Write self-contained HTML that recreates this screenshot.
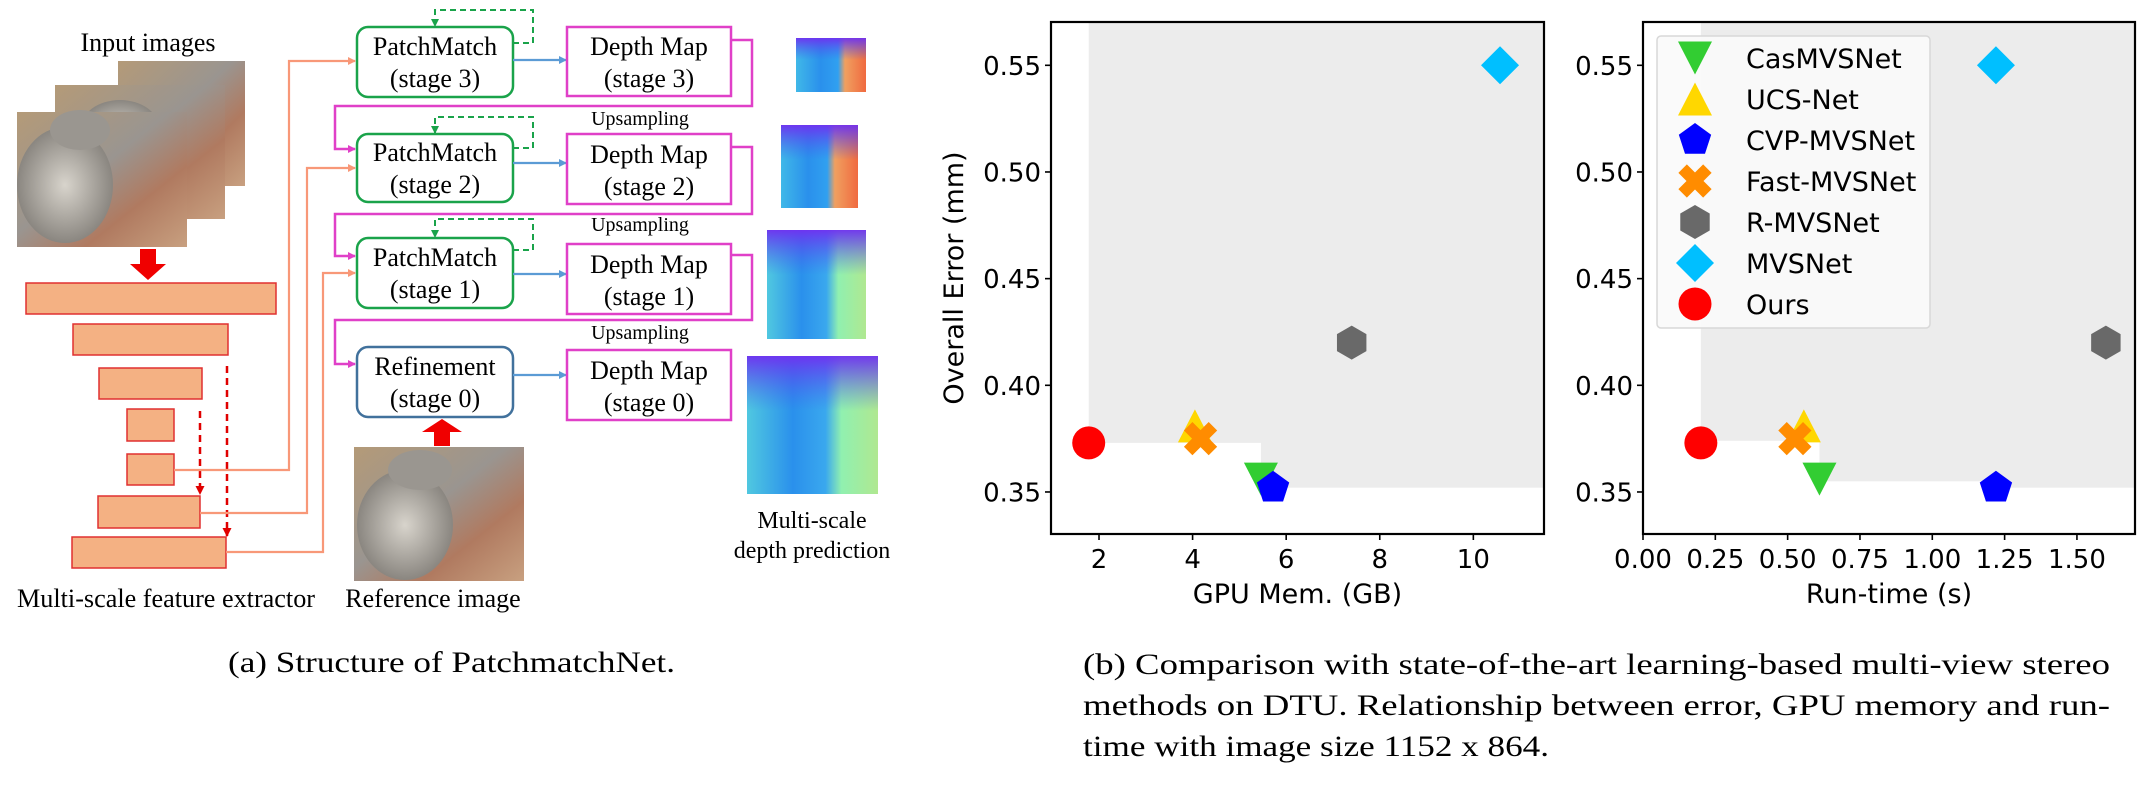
<!DOCTYPE html>
<html><head><meta charset="utf-8"><style>
html,body{margin:0;padding:0;background:#fff;}
svg{display:block;}
.serif{font-family:"Liberation Serif","Times New Roman",serif;fill:#000;}
.sans{font-family:"DejaVu Sans","Liberation Sans",sans-serif;fill:#000;}
</style></head><body>
<svg id="fig" width="2144" height="787" viewBox="0 0 2144 787" xmlns="http://www.w3.org/2000/svg">
<defs>
<marker id="ahO" markerWidth="8" markerHeight="8" refX="7" refY="4" orient="auto" markerUnits="userSpaceOnUse"><path d="M0,0 L8,4 L0,8 z" fill="#f89878"/></marker>
<marker id="ahB" markerWidth="8" markerHeight="8" refX="7" refY="4" orient="auto" markerUnits="userSpaceOnUse"><path d="M0,0 L8,4 L0,8 z" fill="#5b9bd5"/></marker>
<marker id="ahM" markerWidth="8" markerHeight="8" refX="7" refY="4" orient="auto" markerUnits="userSpaceOnUse"><path d="M0,0 L8,4 L0,8 z" fill="#e040c8"/></marker>
<marker id="ahG" markerWidth="8" markerHeight="8" refX="7" refY="4" orient="auto" markerUnits="userSpaceOnUse"><path d="M0,0 L8,4 L0,8 z" fill="#1aa34a"/></marker>
<marker id="ahR" markerWidth="9" markerHeight="9" refX="8" refY="4.5" orient="auto" markerUnits="userSpaceOnUse"><path d="M0,0 L9,4.5 L0,9 z" fill="#e00000"/></marker>
<linearGradient id="photo" x1="0" y1="0" x2="1" y2="1"><stop offset="0" stop-color="#b49a78"/><stop offset="0.45" stop-color="#9a9590"/><stop offset="0.7" stop-color="#b07a60"/><stop offset="1" stop-color="#c8a080"/></linearGradient>
<radialGradient id="bunny" cx="0.5" cy="0.5" r="0.5"><stop offset="0" stop-color="#d8d4cc"/><stop offset="1" stop-color="#8a8680"/></radialGradient>
<linearGradient id="dmA" x1="0" y1="0" x2="1" y2="0"><stop offset="0" stop-color="#40b8e8"/><stop offset="0.35" stop-color="#2a90ec"/><stop offset="0.6" stop-color="#30a0f0"/><stop offset="0.7" stop-color="#f0a060"/><stop offset="1" stop-color="#f06a40"/></linearGradient>
<linearGradient id="dmB" x1="0" y1="0" x2="1" y2="0"><stop offset="0" stop-color="#50c8e0"/><stop offset="0.35" stop-color="#2a90ec"/><stop offset="0.6" stop-color="#3aa8ee"/><stop offset="0.72" stop-color="#90f0b0"/><stop offset="1" stop-color="#b0e890"/></linearGradient>
<linearGradient id="dmTop" x1="0" y1="0" x2="0" y2="1"><stop offset="0" stop-color="#7030f0" stop-opacity="0.95"/><stop offset="1" stop-color="#4060f0" stop-opacity="0"/></linearGradient>
</defs>

<!-- ================= (a) diagram ================= -->
<g>
<text class="serif" x="148" y="51" font-size="26" text-anchor="middle">Input images</text>
<g>
<rect x="118" y="61" width="127" height="125" fill="url(#photo)"/>
<rect x="55" y="85" width="170" height="134" fill="url(#photo)"/>
<ellipse cx="120" cy="130" rx="40" ry="30" fill="url(#bunny)"/>
<rect x="17" y="112" width="170" height="135" fill="url(#photo)"/>
<ellipse cx="65" cy="185" rx="48" ry="58" fill="url(#bunny)"/>
<ellipse cx="80" cy="130" rx="30" ry="20" fill="#9a9690"/>
</g>
<path d="M140,249 L156,249 L156,264 L166,264 L148,280 L130,264 L140,264 Z" fill="#f00000"/>
<g fill="#f4b183" stroke="#e03030" stroke-width="1.5">
<rect x="26" y="283" width="250" height="31"/>
<rect x="73" y="324" width="155" height="31"/>
<rect x="99" y="368" width="103" height="31"/>
<rect x="127" y="409" width="47" height="32"/>
<rect x="127" y="454" width="47" height="31"/>
<rect x="98" y="496" width="102" height="32"/>
<rect x="72" y="537" width="154" height="31"/>
</g>
<g stroke="#e00000" stroke-width="2.5" stroke-dasharray="7,5" fill="none">
<line x1="227" y1="366" x2="227" y2="536" marker-end="url(#ahR)"/>
<line x1="200" y1="411" x2="200" y2="494" marker-end="url(#ahR)"/>
</g>
<g stroke="#f89878" stroke-width="2.2" fill="none">
<polyline points="174,470 289,470 289,61 355,61" marker-end="url(#ahO)"/>
<polyline points="200,513 307,513 307,168 355,168" marker-end="url(#ahO)"/>
<polyline points="226,552 323,552 323,273 355,273" marker-end="url(#ahO)"/>
</g>
<text class="serif" x="17" y="607" font-size="26" textLength="298" lengthAdjust="spacingAndGlyphs">Multi-scale feature extractor</text>

<g>
<rect x="357" y="27" width="156" height="70" rx="11" fill="#fff" stroke="#1aa34a" stroke-width="2.5"/>
<text class="serif" x="435" y="55" font-size="26" text-anchor="middle">PatchMatch</text>
<text class="serif" x="435" y="87" font-size="26" text-anchor="middle">(stage 3)</text>
</g>
<g>
<rect x="357" y="134" width="156" height="68" rx="11" fill="#fff" stroke="#1aa34a" stroke-width="2.5"/>
<text class="serif" x="435" y="161" font-size="26" text-anchor="middle">PatchMatch</text>
<text class="serif" x="435" y="193" font-size="26" text-anchor="middle">(stage 2)</text>
</g>
<g>
<rect x="357" y="238" width="156" height="70" rx="11" fill="#fff" stroke="#1aa34a" stroke-width="2.5"/>
<text class="serif" x="435" y="266" font-size="26" text-anchor="middle">PatchMatch</text>
<text class="serif" x="435" y="298" font-size="26" text-anchor="middle">(stage 1)</text>
</g>
<g>
<rect x="357" y="347" width="156" height="70" rx="11" fill="#fff" stroke="#41719c" stroke-width="2.5"/>
<text class="serif" x="435" y="375" font-size="26" text-anchor="middle">Refinement</text>
<text class="serif" x="435" y="407" font-size="26" text-anchor="middle">(stage 0)</text>
</g>
<g stroke="#1aa34a" stroke-width="2" stroke-dasharray="6,4" fill="none">
<polyline points="513,43 533,43 533,10 435,10 435,26" marker-end="url(#ahG)"/>
<polyline points="513,148 533,148 533,117 435,117 435,133" marker-end="url(#ahG)"/>
<polyline points="513,250 533,250 533,219 435,219 435,237" marker-end="url(#ahG)"/>
</g>
<g stroke="#5b9bd5" stroke-width="2.2" fill="none">
<line x1="513" y1="60" x2="566" y2="60" marker-end="url(#ahB)"/>
<line x1="513" y1="163" x2="566" y2="163" marker-end="url(#ahB)"/>
<line x1="513" y1="274" x2="566" y2="274" marker-end="url(#ahB)"/>
<line x1="513" y1="375" x2="566" y2="375" marker-end="url(#ahB)"/>
</g>
<g>
<rect x="567" y="27" width="164" height="69" fill="#fff" stroke="#e040c8" stroke-width="2.5"/>
<text class="serif" x="649" y="55" font-size="26" text-anchor="middle">Depth Map</text>
<text class="serif" x="649" y="87" font-size="26" text-anchor="middle">(stage 3)</text>
<rect x="567" y="134" width="164" height="70" fill="#fff" stroke="#e040c8" stroke-width="2.5"/>
<text class="serif" x="649" y="163" font-size="26" text-anchor="middle">Depth Map</text>
<text class="serif" x="649" y="195" font-size="26" text-anchor="middle">(stage 2)</text>
<rect x="567" y="244" width="164" height="70" fill="#fff" stroke="#e040c8" stroke-width="2.5"/>
<text class="serif" x="649" y="273" font-size="26" text-anchor="middle">Depth Map</text>
<text class="serif" x="649" y="305" font-size="26" text-anchor="middle">(stage 1)</text>
<rect x="567" y="350" width="164" height="70" fill="#fff" stroke="#e040c8" stroke-width="2.5"/>
<text class="serif" x="649" y="379" font-size="26" text-anchor="middle">Depth Map</text>
<text class="serif" x="649" y="411" font-size="26" text-anchor="middle">(stage 0)</text>
</g>
<g stroke="#e040c8" stroke-width="2.5" fill="none">
<polyline points="731,40 752,40 752,106 335,106 335,149 355,149" marker-end="url(#ahM)"/>
<polyline points="731,147 752,147 752,214 335,214 335,256 355,256" marker-end="url(#ahM)"/>
<polyline points="731,255 752,255 752,320 335,320 335,364 355,364" marker-end="url(#ahM)"/>
</g>
<g>
<text class="serif" x="640" y="125" font-size="20" text-anchor="middle">Upsampling</text>
<text class="serif" x="640" y="231" font-size="20" text-anchor="middle">Upsampling</text>
<text class="serif" x="640" y="339" font-size="20" text-anchor="middle">Upsampling</text>
</g>
<g>
<rect x="796" y="38" width="70" height="54" fill="url(#dmA)"/><rect x="796" y="38" width="70" height="22" fill="url(#dmTop)"/>
<rect x="781" y="125" width="77" height="83" fill="url(#dmA)"/><rect x="781" y="125" width="77" height="35" fill="url(#dmTop)"/>
<rect x="767" y="230" width="99" height="109" fill="url(#dmB)"/><rect x="767" y="230" width="99" height="45" fill="url(#dmTop)"/>
<rect x="747" y="356" width="131" height="138" fill="url(#dmB)"/><rect x="747" y="356" width="131" height="55" fill="url(#dmTop)"/>
</g>
<text class="serif" x="812" y="528" font-size="24" text-anchor="middle">Multi-scale</text>
<text class="serif" x="812" y="558" font-size="24" text-anchor="middle">depth prediction</text>
<path d="M434,446 L450,446 L450,432 L462,432 L442,419 L422,432 L434,432 Z" fill="#f00000"/>
<g>
<rect x="354" y="447" width="170" height="134" fill="url(#photo)"/>
<ellipse cx="405" cy="525" rx="48" ry="55" fill="url(#bunny)"/>
<ellipse cx="420" cy="470" rx="32" ry="20" fill="#9a9690"/>
</g>
<text class="serif" x="433" y="607" font-size="26" text-anchor="middle">Reference image</text>
<text class="serif" x="228" y="672" font-size="30" textLength="447" lengthAdjust="spacingAndGlyphs">(a) Structure of PatchmatchNet.</text>
</g>

<!-- ================= (b) caption ================= -->
<g>
<text class="serif" x="1083" y="674" font-size="30" textLength="1027" lengthAdjust="spacingAndGlyphs">(b) Comparison with state-of-the-art learning-based multi-view stereo</text>
<text class="serif" x="1083" y="715" font-size="30" textLength="1027" lengthAdjust="spacingAndGlyphs">methods on DTU. Relationship between error, GPU memory and run-</text>
<text class="serif" x="1083" y="756" font-size="30" textLength="466" lengthAdjust="spacingAndGlyphs">time with image size 1152 x 864.</text>
</g>
<g id="charts"></g>
</svg>

<script>
// ---- chart data ----
const methods = ["CasMVSNet","UCS-Net","CVP-MVSNet","Fast-MVSNet","R-MVSNet","MVSNet","Ours"];
const markerTypes = ["tri-down","tri-up","pentagon","x","hexagon","diamond","circle"];
const colors = ["#32cd32","#ffd700","#0000ff","#ff8c00","#696969","#00bfff","#ff0000"];
const errorValues = [0.356, 0.381, 0.352, 0.375, 0.420, 0.550, 0.373];
const gpuMemValues = [5.46, 4.05, 5.72, 4.17, 7.40, 10.57, 1.78];
const runtimeValues = [0.61, 0.556, 1.22, 0.525, 1.60, 1.22, 0.20];
const yTicks = [0.35, 0.40, 0.45, 0.50, 0.55];
const yTickLabels = ["0.35","0.40","0.45","0.50","0.55"];
const gpuTicks = [2, 4, 6, 8, 10];
const gpuTickLabels = ["2","4","6","8","10"];
const rtTicks = [0, 0.25, 0.5, 0.75, 1.0, 1.25, 1.5];
const rtTickLabels = ["0.00","0.25","0.50","0.75","1.00","1.25","1.50"];
const gpuShadeX = [1.78, 5.46];
const gpuShadeY = [0.373, 0.352];
const rtShadeX = [0.20, 0.61, 1.22];
const rtShadeY = [0.374, 0.355, 0.352];

const NS = "http://www.w3.org/2000/svg";
function mk(tag, attrs, parent){ const e=document.createElementNS(NS,tag); for(const k in attrs) e.setAttribute(k,attrs[k]); parent.appendChild(e); return e; }

function markerShape(type, cx, cy, color, parent){
  let e;
  if(type==="circle"){ e=mk("ellipse",{cx:cx,cy:cy,rx:16.5,ry:16.5,fill:color},parent); }
  else if(type==="diamond"){ const h=19; e=mk("polygon",{points:`${cx},${cy-h} ${cx+h},${cy} ${cx},${cy+h} ${cx-h},${cy}`,fill:color},parent); }
  else if(type==="tri-down"){ e=mk("polygon",{points:`${cx-17},${cy-16.5} ${cx+17},${cy-16.5} ${cx},${cy+16.5}`,fill:color},parent); }
  else if(type==="tri-up"){ e=mk("polygon",{points:`${cx-17},${cy+16.5} ${cx+17},${cy+16.5} ${cx},${cy-16.5}`,fill:color},parent); }
  else if(type==="pentagon"||type==="hexagon"){
    const n=type==="pentagon"?5:6, r=17, pts=[];
    for(let i=0;i<n;i++){ const a=-Math.PI/2+i*2*Math.PI/n; pts.push((cx+r*Math.cos(a)).toFixed(2)+","+(cy+r*Math.sin(a)).toFixed(2)); }
    e=mk("polygon",{points:pts.join(" "),fill:color},parent);
  } else if(type==="x"){
    const a=17.5,t=6, base=[[t,t],[t,a],[-t,a],[-t,t],[-a,t],[-a,-t],[-t,-t],[-t,-a],[t,-a],[t,-t],[a,-t],[a,t]];
    const c=Math.SQRT1_2;
    const pts=base.map(p=>(cx+(p[0]-p[1])*c).toFixed(2)+","+(cy+(p[0]+p[1])*c).toFixed(2));
    e=mk("polygon",{points:pts.join(" "),fill:color},parent);
  }
  return e;
}

function drawChart(opt){
  const root=document.getElementById("charts");
  const g=mk("g",{},root);
  
  
  const L=opt.left,R=opt.right,T=22,B=534;
  const xs=v=>L+(v-opt.xmin)/(opt.xmax-opt.xmin)*(R-L);
  const ys=v=>B-(v-0.3303)/(0.5703-0.3303)*(B-T);
  // shading
  for(let i=0;i<opt.shadeX.length;i++){
    const r=mk("rect",{x:xs(opt.shadeX[i]),y:T,width:R-xs(opt.shadeX[i]),height:ys(opt.shadeY[i])-T,fill:"#ececec"},g);
    
    
  }
  // y ticks
  yTicks.forEach((v,i)=>{
    mk("line",{x1:L-6,x2:L,y1:ys(v),y2:ys(v),stroke:"#000","stroke-width":1.6},g);
    const t=mk("text",{x:L-10,y:ys(v)+9.5,"text-anchor":"end","font-size":26,class:"sans"},g);
    t.textContent=yTickLabels[i];
    
    
  });
  opt.xticks.forEach((v,i)=>{
    mk("line",{x1:xs(v),x2:xs(v),y1:B,y2:B+6,stroke:"#000","stroke-width":1.6},g);
    const t=mk("text",{x:xs(v),y:568,"text-anchor":"middle","font-size":26,class:"sans"},g);
    t.textContent=opt.xlabels[i];
    
    
  });
  const xt=mk("text",{x:(L+R)/2,y:603,"text-anchor":"middle","font-size":27,class:"sans"},g);
  xt.textContent=opt.xtitle;
  
  
  if(opt.ytitle){
    const yt=mk("text",{x:0,y:0,"text-anchor":"middle","font-size":27,class:"sans",transform:`translate(963,278) rotate(-90)`},g);
    yt.textContent=opt.ytitle;
    
    
  }
  // points
  for(let i=0;i<methods.length;i++){
    const m=markerShape(markerTypes[i],xs(opt.xvals[i]),ys(errorValues[i]),colors[i],g);
    
    
  }
  const frame=mk("rect",{x:L,y:T,width:R-L,height:B-T,fill:"none",stroke:"#000","stroke-width":2.2},g);
  
  
  if(opt.legend){
    const lg=mk("g",{},g);
    
    
    mk("rect",{x:1657,y:36,width:273,height:292,rx:4,fill:"#fafafa","fill-opacity":0.95,stroke:"#d8d8d8","stroke-width":1.5},lg);
    for(let i=0;i<methods.length;i++){
      const cy=58+i*41.0;
      const e=mk("g",{},lg);
      
      
      markerShape(markerTypes[i],1695,cy,colors[i],e);
      const t=mk("text",{x:1746,y:cy+10,"font-size":27,class:"sans"},e);
      t.textContent=methods[i];
    }
  }
}

drawChart({name:"gpu-memory-chart",left:1051,right:1544,xmin:0.974,xmax:11.51,xvals:gpuMemValues,xticks:gpuTicks,xlabels:gpuTickLabels,xtitle:"GPU Mem. (GB)",ytitle:"Overall Error (mm)",shadeX:gpuShadeX,shadeY:gpuShadeY,legend:false});
drawChart({name:"runtime-chart",left:1643,right:2135,xmin:0,xmax:1.7007,xvals:runtimeValues,xticks:rtTicks,xlabels:rtTickLabels,xtitle:"Run-time (s)",ytitle:null,shadeX:rtShadeX,shadeY:rtShadeY,legend:true});
</script>
</body></html>
